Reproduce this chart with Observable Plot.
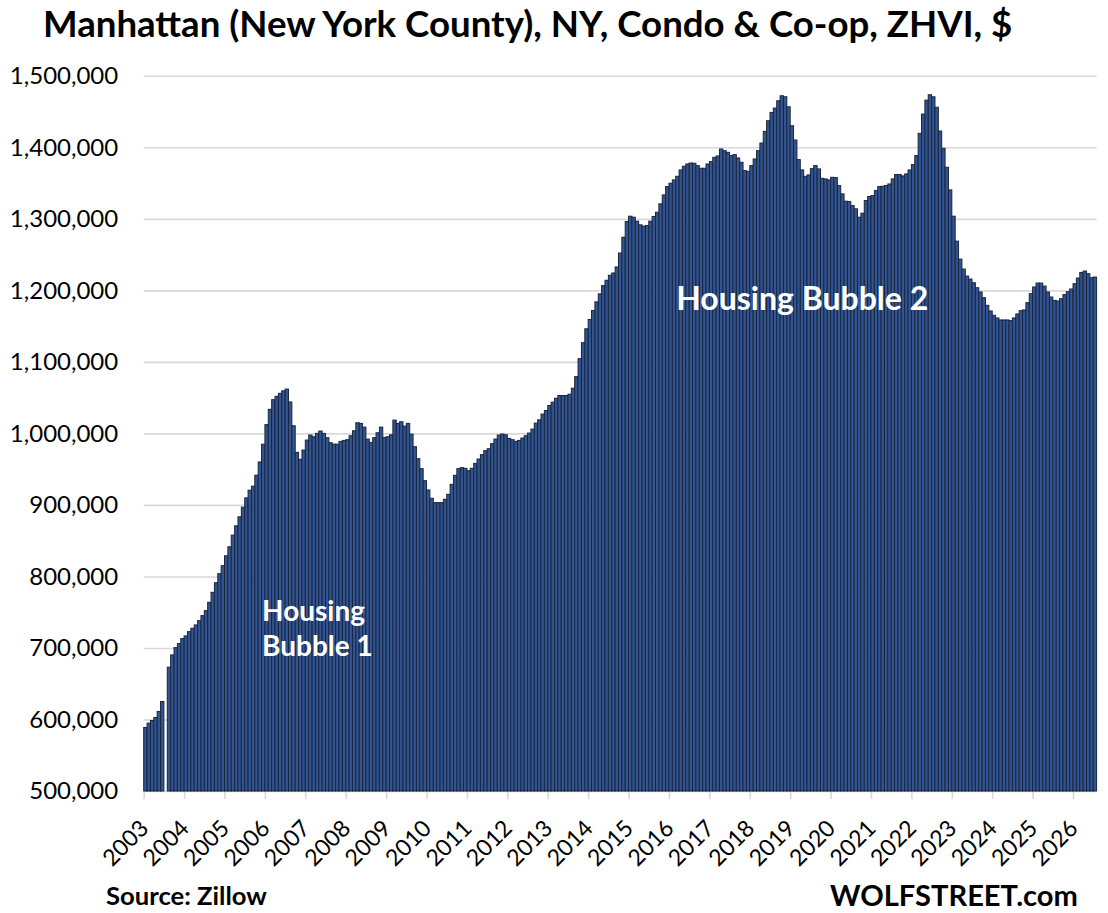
<!DOCTYPE html>
<html>
<head>
<meta charset="utf-8">
<script src="https://cdn.jsdelivr.net/npm/d3@7"></script>
<script src="https://cdn.jsdelivr.net/npm/@observablehq/plot@0.6"></script>
<style>
  html, body { margin: 0; padding: 0; background: #fff; }
  #chart { width: 1108px; height: 913px; background: #fff; }
  svg { display: block; }
</style>
</head>
<body>
<div id="chart"></div>
<script>
// ---- data (monthly ZHVI, $) ----
const title = "Manhattan (New York County), NY, Condo & Co-op, ZHVI, $";
const source = "Source: Zillow";
const brand = "WOLFSTREET.com";
const years = [2003,2004,2005,2006,2007,2008,2009,2010,2011,2012,2013,2014,2015,2016,2017,2018,2019,2020,2021,2022,2023,2024,2025,2026];
const yTicks = [500000,600000,700000,800000,900000,1000000,1100000,1200000,1300000,1400000,1500000];

const v2003 = [588800, 594900, 598600, 602800, 611200, 625100, null, 673100, 690300, 700500, 706100, 713100];
const v2004 = [716800, 722800, 727600, 732200, 738200, 745200, 752200, 763900, 777800, 791200, 803800, 815000];
const v2005 = [828900, 841500, 857800, 870800, 883400, 896900, 909900, 920600, 926200, 941600, 960100, 984900];
const v2006 = [1012300, 1033700, 1047200, 1051900, 1056000, 1059500, 1062000, 1044000, 1010700, 973500, 963800, 976700];
const v2007 = [990700, 997700, 995300, 1000000, 1003300, 1000000, 994000, 987000, 985000, 985000, 988800, 990200];
const v2008 = [991200, 996700, 1003700, 1014900, 1014000, 1008800, 992000, 987400, 994000, 1000900, 1008800, 994400];
const v2009 = [995300, 998000, 1018600, 1014000, 1016300, 1010200, 1014000, 999000, 981400, 964600, 950700, 933900];
const v2010 = [920900, 909300, 903200, 903200, 903200, 907900, 914800, 928800, 941400, 950700, 952100, 951200];
const v2011 = [947900, 951200, 958100, 964200, 970300, 975900, 978600, 985600, 992100, 997700, 999100, 998100];
const v2012 = [993000, 991200, 988900, 990200, 993500, 996700, 1000500, 1006000, 1014400, 1019000, 1027000, 1032000];
const v2013 = [1039000, 1043700, 1049200, 1053000, 1053000, 1053000, 1054800, 1063200, 1079400, 1104500, 1126800, 1146300];
const v2014 = [1159300, 1171900, 1183900, 1195100, 1206700, 1214100, 1221100, 1224300, 1232700, 1252200, 1274400, 1296300];
const v2015 = [1303700, 1302300, 1296700, 1291600, 1289800, 1290700, 1296700, 1303300, 1309300, 1320900, 1333500, 1345100];
const v2016 = [1349800, 1354400, 1359500, 1368400, 1373500, 1376700, 1378100, 1377700, 1374400, 1370700, 1370700, 1376700];
const v2017 = [1380000, 1386000, 1387900, 1397700, 1395300, 1393000, 1388400, 1389800, 1385100, 1379100, 1367400, 1366500];
const v2018 = [1374400, 1383700, 1395300, 1406000, 1422300, 1437200, 1448800, 1454900, 1465100, 1472100, 1470700, 1456700];
const v2019 = [1430200, 1410200, 1382800, 1368400, 1359500, 1361400, 1370200, 1374400, 1369800, 1356700, 1355800, 1354400];
const v2020 = [1358100, 1357700, 1346500, 1334900, 1324700, 1324200, 1318600, 1314000, 1302300, 1307900, 1325600, 1331200];
const v2021 = [1332600, 1339500, 1345100, 1345600, 1346500, 1348800, 1355800, 1361900, 1361900, 1360000, 1362800, 1368400];
const v2022 = [1375800, 1388400, 1419500, 1446500, 1466000, 1473500, 1470700, 1456000, 1422800, 1398600, 1372100, 1340500];
const v2023 = [1303700, 1268800, 1243700, 1229800, 1220000, 1215800, 1210700, 1203700, 1197700, 1189800, 1179100, 1171200];
const v2024 = [1165100, 1161400, 1158600, 1158600, 1158600, 1157700, 1161400, 1167000, 1171600, 1172600, 1182800, 1195300];
const v2025 = [1204700, 1210200, 1210200, 1206000, 1197700, 1190700, 1186000, 1185100, 1188400, 1194000, 1198100, 1201900];
const v2026 = [1209300, 1217200, 1225100, 1227000, 1223300, 1217700, 1218600];

const annotations = [
  {label: "Housing\nBubble 1", year: 2005, month: 12, value: 729000, size: 28},
  {label: "Housing Bubble 2", year: 2016, month: 3, value: 1191000, size: 32}
];

// ---- build table ----
const series = [v2003,v2004,v2005,v2006,v2007,v2008,v2009,v2010,v2011,v2012,v2013,v2014,v2015,v2016,v2017,v2018,v2019,v2020,v2021,v2022,v2023,v2024,v2025,v2026];
const rows = [];
series.forEach((arr, k) => arr.forEach((v, m) => rows.push({i: rows.length, year: years[k], month: m + 1, value: v})));
const tickIdx = years.map((_, k) => k * 12);
const annoRows = annotations.map(a => ({...a, i: (a.year - years[0]) * 12 + (a.month - 1)}));

// ---- font fitting helper ----
const ctx = document.createElement("canvas").getContext("2d");
function fitSize(text, target, weight = "bold", family = "Lato") {
  ctx.font = `${weight} 100px ${family}`;
  return 100 * target / ctx.measureText(text).width;
}

const root = d3.select("#chart");

// title
const tsvg = root.append("svg").attr("width", 1108).attr("height", 52);
tsvg.append("text").attr("x", 43).attr("y", 37)
  .attr("font-family", "Lato").attr("font-weight", "bold")
  .attr("font-size", fitSize(title, 972)).attr("fill", "#000").text(title);

// plot
const chart = Plot.plot({
  width: 1108,
  height: 818,
  marginTop: 23.8,
  marginBottom: 79,
  marginLeft: 143.7,
  marginRight: 11.4,
  style: {fontFamily: "Lato", color: "#000", background: "#fff", overflow: "visible"},
  x: {type: "linear", domain: [0, rows.length], axis: null},
  y: {domain: [yTicks[0], yTicks[yTicks.length - 1]], axis: null},
  marks: [
    Plot.gridY(yTicks, {stroke: "#d9d9d9", strokeOpacity: 1, strokeWidth: 1.6}),
    Plot.axisY(yTicks, {tickSize: 0, tickPadding: 26, tickFormat: d3.format(","), fontSize: 24, fill: "#000", label: null}),
    Plot.axisX(tickIdx, {tickSize: 8, stroke: "#d9d9d9", strokeWidth: 1.6, fill: "none", label: null}),
    Plot.axisX(tickIdx, {tickSize: 0, tickPadding: 33, dx: 0.5, tickRotate: -45, textAnchor: "end", lineAnchor: "middle",
      fontSize: 23, fill: "#000", label: null, tickFormat: d => String(years[d / 12])}),
    Plot.rectY(rows, {x1: "i", x2: d => d.i + 1, y1: yTicks[0], y2: "value",
      fill: "#2f5597", stroke: "#1d2537", strokeWidth: 1}),
    Plot.text(annoRows, {x: "i", y: "value", text: "label", fill: "#fff", fontWeight: "bold",
      fontSize: d => d.size, textAnchor: "start", lineAnchor: "middle", lineHeight: 1.25})
  ]
});
root.node().appendChild(chart);

// footer
const fsvg = root.append("svg").attr("width", 1108).attr("height", 43);
fsvg.append("text").attr("x", 106).attr("y", 35)
  .attr("font-family", "Lato").attr("font-weight", "bold")
  .attr("font-size", fitSize(source, 161)).attr("fill", "#000").text(source);
fsvg.append("text").attr("x", 830).attr("y", 36)
  .attr("font-family", "Lato").attr("font-weight", "bold")
  .attr("font-size", fitSize(brand, 248)).attr("fill", "#000").text(brand);
</script>
</body>
</html>
